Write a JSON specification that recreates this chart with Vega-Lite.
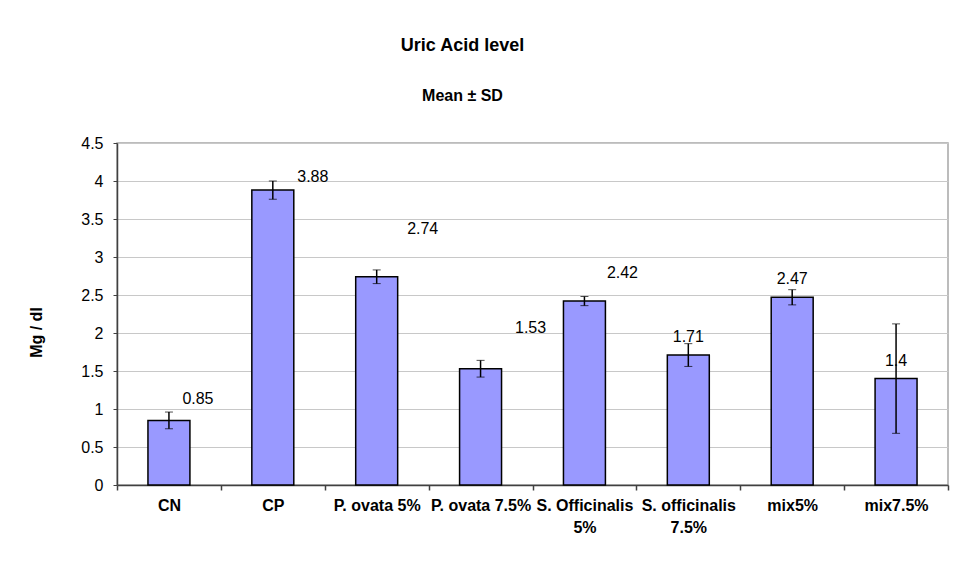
{
  "$schema": "https://vega.github.io/schema/vega-lite/v6.json",
  "autosize": {"type": "none"},
  "padding": {"left": 117, "top": 143, "right": 9, "bottom": 88},
  "width": 831,
  "height": 342,
  "background": "white",
  "title": {
    "text": "Uric Acid level",
    "subtitle": "Mean ± SD",
    "anchor": "middle",
    "dx": -70,
    "offset": 31,
    "font": "Liberation Sans",
    "fontSize": 18,
    "fontWeight": "bold",
    "color": "#000000",
    "subtitleFont": "Liberation Sans",
    "subtitleFontSize": 16,
    "subtitleFontWeight": "bold",
    "subtitleColor": "#000000",
    "subtitlePadding": 33
  },
  "config": {
    "view": {"stroke": "#a6a6a6", "strokeWidth": 1.5},
    "font": "Liberation Sans"
  },
  "data": {
    "values": [
      {"group": "CN", "mean": 0.85, "sd": 0.11},
      {"group": "CP", "mean": 3.88, "sd": 0.12},
      {"group": "P. ovata 5%", "mean": 2.74, "sd": 0.09},
      {"group": "P. ovata 7.5%", "mean": 1.53, "sd": 0.11},
      {"group": "S. Officinalis 5%", "mean": 2.42, "sd": 0.06},
      {"group": "S. officinalis 7.5%", "mean": 1.71, "sd": 0.15},
      {"group": "mix5%", "mean": 2.47, "sd": 0.1},
      {"group": "mix7.5%", "mean": 1.4, "sd": 0.72}
    ]
  },
  "encoding": {
    "x": {
      "field": "group",
      "type": "nominal",
      "sort": null,
      "scale": {"paddingInner": 0, "paddingOuter": 0},
      "axis": {
        "title": null,
        "labelAngle": 0,
        "labelFont": "Liberation Sans",
        "labelFontSize": 16,
        "labelFontWeight": "bold",
        "labelColor": "#000000",
        "labelLineHeight": 22,
        "labelPadding": 7,
        "labelLimit": 200,
        "labelExpr": "datum.value == 'S. Officinalis 5%' ? ['S. Officinalis', '5%'] : datum.value == 'S. officinalis 7.5%' ? ['S. officinalis', '7.5%'] : datum.value",
        "tickBand": "extent",
        "tickSize": 5,
        "tickColor": "#404040",
        "tickWidth": 1.5,
        "domainColor": "#404040",
        "domainWidth": 1.5,
        "grid": false
      }
    },
    "y": {
      "field": "mean",
      "type": "quantitative",
      "title": "Mg / dl",
      "scale": {"domain": [0, 4.5]},
      "axis": {
        "titleFont": "Liberation Sans",
        "titleFontSize": 16,
        "titleFontWeight": "bold",
        "titleColor": "#000000",
        "titleAngle": 270,
        "titleX": -81,
        "titleY": 189,
        "titleAlign": "center",
        "titleBaseline": "middle",
        "values": [0, 0.5, 1, 1.5, 2, 2.5, 3, 3.5, 4, 4.5],
        "format": ".1~f",
        "labelOverlap": false,
        "labelFont": "Liberation Sans",
        "labelFontSize": 16,
        "labelColor": "#000000",
        "labelPadding": 10,
        "tickSize": 4,
        "tickColor": "#404040",
        "domainColor": "#404040",
        "domainWidth": 1.5,
        "gridColor": "#c8c8c8",
        "gridWidth": 1
      }
    }
  },
  "layer": [
    {
      "mark": {"type": "bar", "width": {"band": 0.404}, "fill": "#9999ff", "stroke": "#000000", "strokeWidth": 1.5}
    },
    {
      "mark": {"type": "errorbar", "ticks": {"size": 8, "color": "#000000", "strokeWidth": 1.5}, "rule": {"color": "#000000", "strokeWidth": 1.5}},
      "encoding": {
        "yError": {"field": "sd"}
      }
    },
    {
      "transform": [{"filter": "datum.group == 'CN'"}],
      "mark": {"type": "text", "dx": 29, "dy": -21, "fontSize": 16, "baseline": "middle", "color": "#000000"},
      "encoding": {"text": {"field": "mean", "type": "quantitative"}}
    },
    {
      "transform": [{"filter": "datum.group == 'CP'"}],
      "mark": {"type": "text", "dx": 40, "dy": -13, "fontSize": 16, "baseline": "middle", "color": "#000000"},
      "encoding": {"text": {"field": "mean", "type": "quantitative"}}
    },
    {
      "transform": [{"filter": "datum.group == 'P. ovata 5%'"}],
      "mark": {"type": "text", "dx": 46, "dy": -48, "fontSize": 16, "baseline": "middle", "color": "#000000"},
      "encoding": {"text": {"field": "mean", "type": "quantitative"}}
    },
    {
      "transform": [{"filter": "datum.group == 'P. ovata 7.5%'"}],
      "mark": {"type": "text", "dx": 50, "dy": -41, "fontSize": 16, "baseline": "middle", "color": "#000000"},
      "encoding": {"text": {"field": "mean", "type": "quantitative"}}
    },
    {
      "transform": [{"filter": "datum.group == 'S. Officinalis 5%'"}],
      "mark": {"type": "text", "dx": 38, "dy": -28, "fontSize": 16, "baseline": "middle", "color": "#000000"},
      "encoding": {"text": {"field": "mean", "type": "quantitative"}}
    },
    {
      "transform": [{"filter": "datum.group == 'S. officinalis 7.5%' || datum.group == 'mix5%' || datum.group == 'mix7.5%'"}],
      "mark": {"type": "text", "dx": 0, "dy": -18, "fontSize": 16, "baseline": "middle", "color": "#000000"},
      "encoding": {"text": {"field": "mean", "type": "quantitative"}}
    }
  ]
}
